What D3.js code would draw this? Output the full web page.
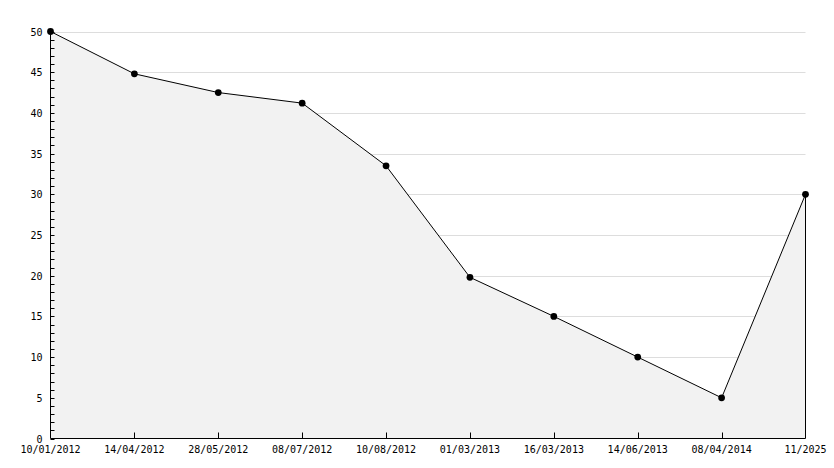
<!DOCTYPE html>
<html>
<head>
<meta charset="utf-8">
<script src="https://cdn.jsdelivr.net/npm/d3@7"></script>
<style>
  body { margin: 0; background: #fff; }
  text { font-family: "DejaVu Sans Mono", monospace; font-size: 10px; fill: #000; }
</style>
</head>
<body>
<svg id="chart" width="834" height="468"></svg>
<script>
// values
const dates = ['10/01/2012', '14/04/2012', '28/05/2012', '08/07/2012', '10/08/2012',
               '01/03/2013', '16/03/2013', '14/06/2013', '08/04/2014', '11/2025'];
const values = [50, 44.8, 42.5, 41.2, 33.5, 19.8, 15, 10, 5, 30];
const yTicks = [0, 5, 10, 15, 20, 25, 30, 35, 40, 45, 50];

const svg = d3.select('#chart');
const plotL = 50.5, plotR = 805.5, plotT = 31.5, plotB = 438.5;

const x = d3.scalePoint().domain(dates).range([plotL, plotR]);
const y = d3.scaleLinear().domain([0, 50]).range([plotB, plotT]);

// horizontal grid
svg.append('g').selectAll('line')
    .data(yTicks.filter(d => d > 0))
    .enter().append('line')
    .attr('x1', plotL).attr('x2', plotR)
    .attr('y1', d => Math.round(y(d)) + 0.5).attr('y2', d => Math.round(y(d)) + 0.5)
    .attr('stroke', '#dddddd');

// filled area under the line
const area = d3.area()
    .x((d, i) => x(dates[i]))
    .y0(y(0))
    .y1(d => y(d));
svg.append('path')
    .datum(values)
    .attr('d', area)
    .attr('fill', '#f2f2f2');

// closing edge at the last point
const lastX = x(dates[dates.length - 1]);
svg.append('line')
    .attr('x1', lastX).attr('x2', lastX)
    .attr('y1', y(values[values.length - 1])).attr('y2', y(0))
    .attr('stroke', '#000');

const line = d3.line()
    .x((d, i) => x(dates[i]))
    .y(d => y(d));
svg.append('path')
    .datum(values)
    .attr('d', line)
    .attr('fill', 'none')
    .attr('stroke', '#000')
    .attr('stroke-width', 1);

// y axis: minor ticks every 1, labels every 5
const yAxis = svg.append('g').attr('transform', 'translate(' + plotL + ',0)');
yAxis.append('line').attr('y1', plotT).attr('y2', plotB).attr('stroke', '#000');
yAxis.selectAll('.minor')
    .data(d3.range(0, 51))
    .enter().append('line')
    .attr('x1', 0).attr('x2', 4)
    .attr('y1', d => Math.round(y(d)) + 0.5).attr('y2', d => Math.round(y(d)) + 0.5)
    .attr('stroke', '#000');
yAxis.selectAll('text')
    .data(yTicks)
    .enter().append('text')
    .attr('x', -8)
    .attr('y', d => y(d) + 4)
    .attr('text-anchor', 'end')
    .text(d => d);

// x axis
const xAxis = svg.append('g');
xAxis.append('line').attr('x1', plotL).attr('x2', plotR)
    .attr('y1', plotB).attr('y2', plotB).attr('stroke', '#000');
xAxis.selectAll('.tick')
    .data(dates.slice(1, -1))
    .enter().append('line')
    .attr('x1', d => Math.round(x(d)) + 0.5).attr('x2', d => Math.round(x(d)) + 0.5)
    .attr('y1', plotB).attr('y2', plotB - 6)
    .attr('stroke', '#000');
xAxis.selectAll('text')
    .data(dates)
    .enter().append('text')
    .attr('x', d => x(d))
    .attr('y', plotB + 14)
    .attr('text-anchor', 'middle')
    .text(d => d);

// markers
svg.append('g').selectAll('path')
    .data(values)
    .enter().append('path')
    .attr('transform', (d, i) => 'translate(' + x(dates[i]) + ',' + y(d) + ')')
    .attr('d', d3.symbol().type(d3.symbolCircle).size(36))
    .attr('fill', '#000');
</script>
</body>
</html>
